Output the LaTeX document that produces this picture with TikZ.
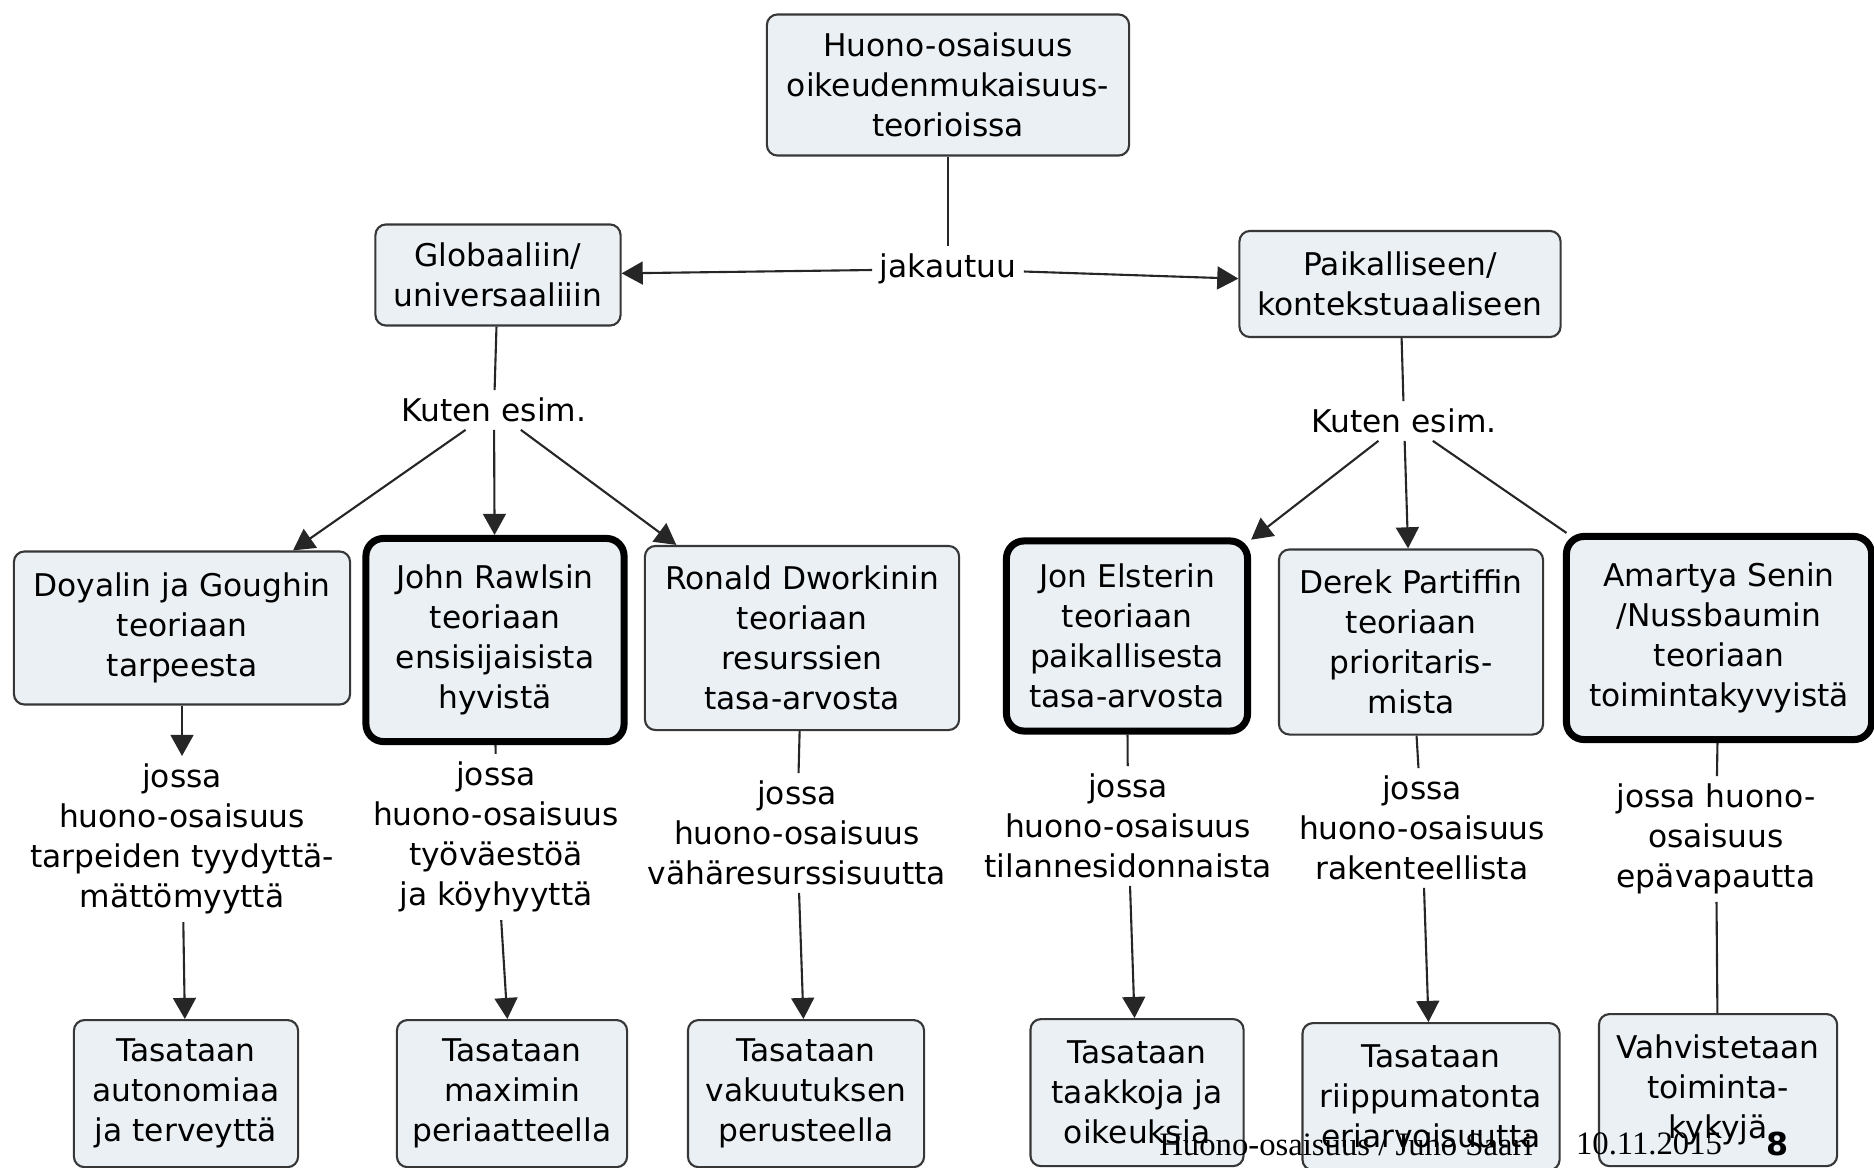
\documentclass[tikz,border=0pt]{standalone}
\usepackage{fontspec}
\setmainfont{DejaVu Sans}
\newfontfamily\footfont{Liberation Serif}
\usetikzlibrary{arrows.meta}
\definecolor{boxfill}{RGB}{234,240,244}
\definecolor{boxline}{RGB}{55,55,55}
\tikzset{
  concept/.style={draw=boxline,line width=0.6pt,fill=boxfill,rounded corners=3pt,align=center,inner sep=2pt},
  keyconcept/.style={concept,draw=black,line width=2pt,rounded corners=5pt},
  linkword/.style={align=center,inner sep=2pt},
  link/.style={line width=0.6pt,draw=black!85},
  linkarrow/.style={link,-{Triangle[length=6pt,width=6.5pt]}},
}
\begin{document}
\begin{tikzpicture}[x=0.01cm,y=-0.01cm,font=\fontsize{8.9}{11.4}\selectfont]
        \useasboundingbox (0,0) rectangle (1874,1167);
        % top of the map
        \node[concept,minimum width=3.62cm,minimum height=1.41cm] (top) at (948,85) {Huono-osaisuus\\oikeudenmukaisuus-\\teorioissa};
        \node[linkword] (jak) at (948,269) {jakautuu};
        \node[concept,minimum width=2.45cm,minimum height=1.01cm] (glob) at (498,275) {Globaaliin/\\universaaliiin};
        \node[concept,minimum width=3.21cm,minimum height=1.06cm] (paik) at (1400,284) {Paikalliseen/\\kontekstuaaliseen};
        \node[linkword] (kutg) at (494,410) {Kuten esim.};
        \node[linkword] (kutp) at (1404,421) {Kuten esim.};
        % theories
        \node[concept,minimum width=3.36cm,minimum height=1.53cm] (doyal) at (182,628) {Doyalin ja Goughin\\teoriaan\\tarpeesta};
        \node[keyconcept,minimum width=2.58cm,minimum height=2.03cm] (rawls) at (495,640) {John Rawlsin\\teoriaan\\ensisijaisista\\hyvistä};
        \node[concept,minimum width=3.14cm,minimum height=1.84cm] (dwork) at (802,638) {Ronald Dworkinin\\teoriaan\\resurssien\\tasa-arvosta};
        \node[keyconcept,minimum width=2.41cm,minimum height=1.90cm] (elster) at (1127,636) {Jon Elsterin\\teoriaan\\paikallisesta\\tasa-arvosta};
        \node[concept,minimum width=2.64cm,minimum height=1.85cm] (parfit) at (1411,642) {Derek Partiffin\\teoriaan\\prioritaris-\\mista};
        \node[keyconcept,minimum width=3.05cm,minimum height=2.03cm] (sen) at (1719,638) {Amartya Senin\\/Nussbaumin\\teoriaan\\toimintakyvyistä};
        % what disadvantage means
        \node[linkword] (jd) at (182,839) {jossa\\huono-osaisuus\\tarpeiden tyydyttä-\\mättömyyttä};
        \node[linkword] (jr) at (496,837) {jossa\\huono-osaisuus\\työväestöä\\ja köyhyyttä};
        \node[linkword] (jdw) at (797,833) {jossa\\huono-osaisuus\\vähäresurssisuutta};
        \node[linkword] (je) at (1128,826) {jossa\\huono-osaisuus\\tilannesidonnaista};
        \node[linkword] (jp) at (1422,828) {jossa\\huono-osaisuus\\rakenteellista};
        \node[linkword] (js) at (1716,839) {jossa huono-\\osaisuus\\epävapautta};
        % bottom row, cut by the page edge
        \node[concept,anchor=north,minimum width=2.24cm,minimum height=1.47cm] (tas1) at (186,1019) {Tasataan\\autonomiaa\\ja terveyttä};
        \node[concept,anchor=north,minimum width=2.30cm,minimum height=1.47cm] (tas2) at (512,1019) {Tasataan\\maximin\\periaatteella};
        \node[concept,anchor=north,minimum width=2.36cm,minimum height=1.47cm] (tas3) at (806,1019) {Tasataan\\vakuutuksen\\perusteella};
        \node[concept,anchor=north,minimum width=2.13cm,minimum height=1.47cm] (tas4) at (1137,1018) {Tasataan\\taakkoja ja\\oikeuksia};
        \node[concept,anchor=north,minimum width=2.57cm,minimum height=1.47cm] (tas5) at (1431,1022) {Tasataan\\riippumatonta\\eriarvoisuutta};
        \node[concept,anchor=north,minimum width=2.38cm,minimum height=1.52cm] (vahv) at (1718,1013) {Vahvistetaan\\toiminta-\\kykyjä};
        % links
        \draw[link] (top) -- (jak);
        \draw[linkarrow] (jak) -- (glob);
        \draw[linkarrow] (jak) -- (paik);
        \draw[link] (glob) -- (kutg);
        \draw[link] (paik) -- (kutp);
        \foreach \t in {doyal,rawls,dwork}
            \draw[linkarrow] (kutg) -- (\t);
        \draw[linkarrow] (kutp) -- (elster);
        \draw[linkarrow] (kutp) -- (parfit);
        \draw[link] (kutp) -- (sen);
        \draw[linkarrow] (doyal) -- (jd);
        \foreach \a/\b in {rawls/jr,dwork/jdw,elster/je,parfit/jp,sen/js,js/vahv}
            \draw[link] (\a) -- (\b);
        \foreach \a/\b in {jd/tas1,jr/tas2,jdw/tas3,je/tas4,jp/tas5}
            \draw[linkarrow] (\a) -- (\b);
        % footer
        \node[font=\footfont\fontsize{9.3}{11}\selectfont] (fauth) at (1346,1144) {Huono-osaisuus / Juho Saari};
        \node[font=\footfont\fontsize{9.3}{11}\selectfont] (fdate) at (1649,1144) {10.11.2015};
        \node[font=\bfseries\fontsize{9}{11}\selectfont] (fpage) at (1777,1144) {8};
\end{tikzpicture}
\end{document}
